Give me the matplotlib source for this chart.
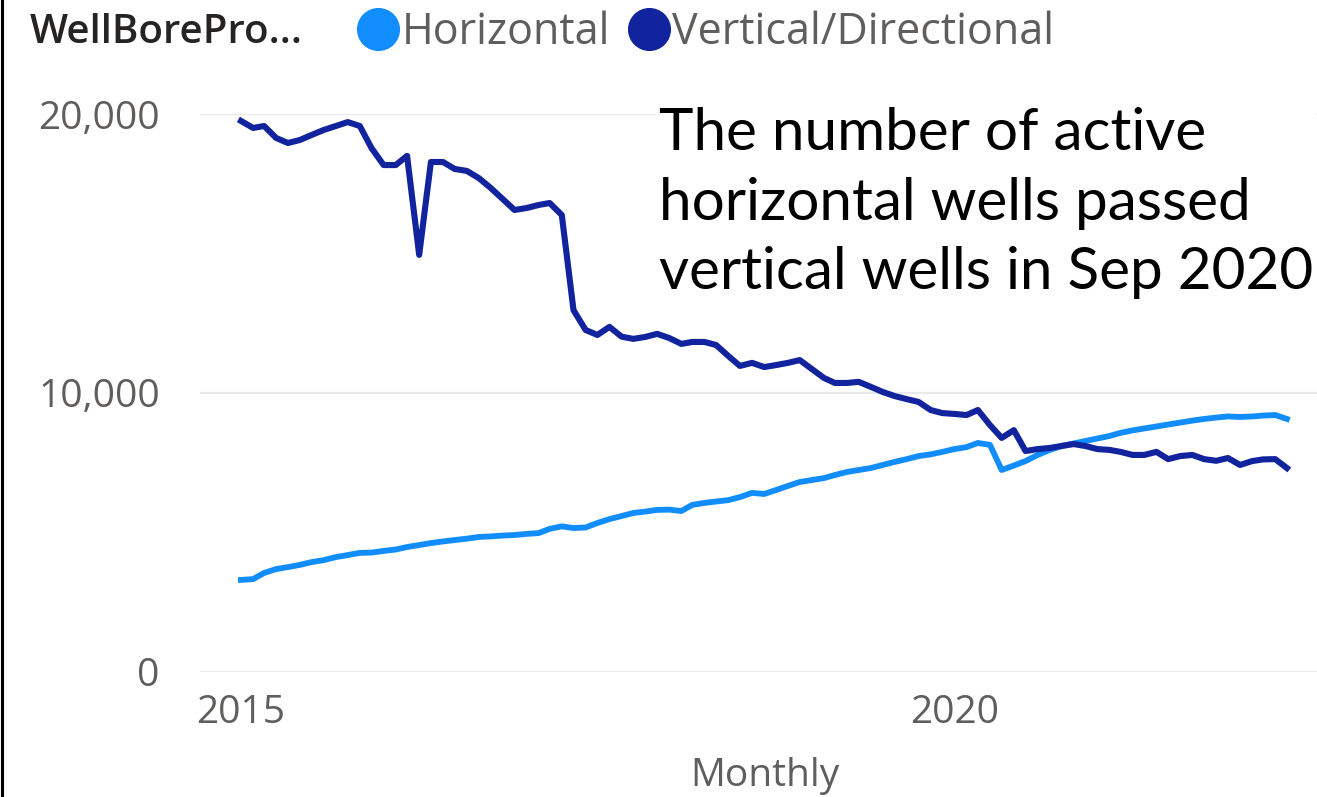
import numpy as np
import pandas as pd
import matplotlib
matplotlib.use("Agg")
import matplotlib.pyplot as plt
import matplotlib.dates as mdates
from matplotlib.lines import Line2D

# Monthly active well counts, Jan 2015 - May 2022
months = pd.date_range("2015-01-01", periods=89, freq="MS")

vertical = [
    19750, 19500, 19570, 19140, 18960, 19070, 19250, 19430, 19570, 19710,
    19570, 18780, 18170, 18170, 18500, 14950, 18280, 18280, 18030, 17960,
    17700, 17350, 16950, 16560, 16630, 16740, 16810, 16380, 12970, 12260,
    12080, 12370, 12020, 11940, 12010, 12120, 11970, 11760, 11830, 11830,
    11720, 11330, 10970, 11080, 10930, 11000, 11080, 11180, 10860, 10540,
    10360, 10360, 10400, 10220, 10040, 9890, 9780, 9680, 9390, 9280,
    9250, 9210, 9390, 8850, 8390, 8670, 7920, 7990, 8030, 8100,
    8170, 8100, 7990, 7960, 7890, 7780, 7780, 7890, 7630, 7740,
    7780, 7630, 7570, 7670, 7420, 7560, 7620, 7630, 7310,
]

horizontal = [
    3300, 3330, 3550, 3690, 3760, 3840, 3940, 4010, 4120, 4190,
    4270, 4280, 4340, 4390, 4480, 4550, 4620, 4680, 4730, 4780,
    4840, 4860, 4890, 4910, 4950, 4980, 5130, 5220, 5160, 5180,
    5340, 5480, 5590, 5700, 5750, 5810, 5820, 5770, 5990, 6060,
    6110, 6160, 6270, 6420, 6380, 6520, 6670, 6810, 6880, 6950,
    7060, 7170, 7240, 7310, 7420, 7530, 7630, 7740, 7800, 7890,
    7990, 8060, 8210, 8140, 7240, 7400, 7560, 7780, 7960, 8100,
    8190, 8280, 8370, 8460, 8570, 8660, 8730, 8800, 8870, 8940,
    9010, 9070, 9120, 9160, 9140, 9160, 9190, 9210, 9070,
]

series_names = ["Horizontal", "Vertical/Directional"]
colors = ["#118DFF", "#12239E"]
yticks = [0, 10000, 20000]
ytick_labels = ["0", "10,000", "20,000"]
xticks = pd.to_datetime(["2015-01-01", "2020-01-01"])
xtick_labels = ["2015", "2020"]
note = "The number of active\nhorizontal wells passed\nvertical wells in Sep 2020"

plt.rcParams["font.family"] = ["Open Sans", "DejaVu Sans"]
grey = "#605E5C"

fig = plt.figure(figsize=(13.17, 7.97), dpi=100)
ax = fig.add_axes([200 / 1317, 1 - 672 / 797, 1117 / 1317, 558 / 797])

ax.plot(months, horizontal, color=colors[0], lw=4.2, solid_joinstyle="round", zorder=3)
ax.plot(months, vertical, color=colors[1], lw=4.4, solid_joinstyle="round", zorder=4)

ax.set_ylim(0, 20000)
ax.set_xlim(pd.Timestamp("2015-01-01") - pd.Timedelta(days=105),
            pd.Timestamp("2020-01-01") + pd.Timedelta(days=928))

ax.set_yticks(yticks)
ax.set_yticklabels(ytick_labels)
ax.set_xticks(xticks)
ax.set_xticklabels(xtick_labels)
ax.tick_params(length=0, labelsize=28, labelcolor=grey)
ax.tick_params(axis="y", pad=29)
ax.tick_params(axis="x", pad=16)
ax.grid(axis="y", color="#E9E9E9", lw=1.6, zorder=0)
ax.grid(axis="x", visible=False)
for s in ax.spines.values():
    s.set_visible(False)
ax.set_xlabel("Monthly", fontsize=28, color=grey)
ax.xaxis.set_label_coords(565 / 1117, -0.152)

# annotation box over the top gridline
ax.text(0.411, 1.012, note, transform=ax.transAxes, ha="left", va="top",
        fontsize=42, family=["Lato", "DejaVu Sans"], color="black",
        linespacing=1.38, zorder=5,
        bbox=dict(facecolor="white", edgecolor="none", pad=2))

# legend row
fig.text(30 / 1317, 1 - 33 / 797, "WellBorePro...", ha="left", va="center",
         fontsize=29, color="#252423", fontweight="semibold")
handles = [Line2D([], [], marker="o", ls="", color=c, markersize=30) for c in colors]
fig.legend(handles, series_names, loc="center left",
           bbox_to_anchor=(352 / 1317, 1 - 33 / 797), ncol=2, frameon=False,
           fontsize=31, labelcolor=grey, handletextpad=-0.05,
           columnspacing=0.3, handlelength=1.2, borderpad=0, borderaxespad=0)

# left border of the screenshot
fig.add_artist(Line2D([0.0015, 0.0015], [0, 1], color="black", lw=2.2,
                      transform=fig.transFigure))

fig.savefig("out.png", dpi=100, facecolor="white")
